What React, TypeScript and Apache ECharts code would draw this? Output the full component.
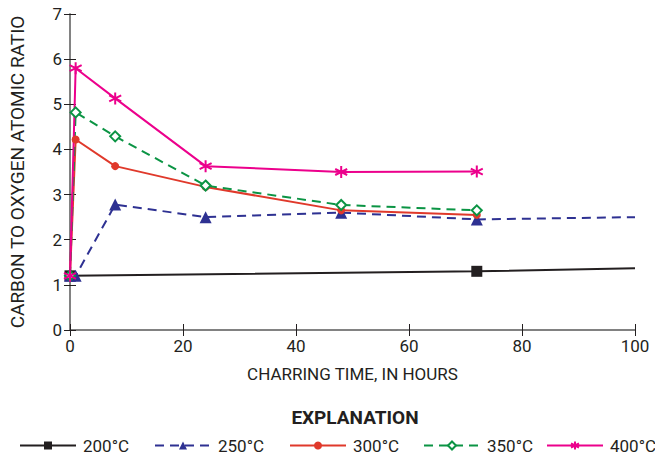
import React, { useEffect, useRef } from "react";
import * as echarts from "echarts";

const hours200 = [0, 72, 100];
const ratio200 = [1.2, 1.3, 1.37];
const hours250 = [0, 1, 8, 24, 48, 72, 100];
const ratio250 = [1.2, 1.2, 2.78, 2.5, 2.6, 2.45, 2.5];
const hoursHot = [0, 1, 8, 24, 48, 72];
const ratio300 = [1.2, 4.22, 3.63, 3.17, 2.65, 2.55];
const ratio350 = [1.2, 4.82, 4.29, 3.2, 2.77, 2.65];
const ratio400 = [1.2, 5.8, 5.13, 3.63, 3.5, 3.51];
const seriesNames = ["200°C", "250°C", "300°C", "350°C", "400°C"];
const legendLefts = [19, 154, 289, 423, 546];

const FONT = "Roboto, 'Liberation Sans', sans-serif";
const INK = "#231f20";
const ASTERISK = "path://M0,-10L0,10M-8.66,-5L8.66,5M-8.66,5L8.66,-5";

function pairs(xs: number[], ys: number[]) {
  return xs.map((x, i) => {
    const item: any = { value: [x, ys[i]] };
    if (x === 100) item.symbol = "none";
    return item;
  });
}

export default function App() {
  const ref = useRef<HTMLDivElement>(null);
  useEffect(() => {
    const chart = echarts.init(ref.current!, null, { renderer: "svg" });
    const frame = { show: true, lineStyle: { color: "#7a7a7a", width: 1.5 } };
    const tickIn = { show: true, inside: true, length: 6, lineStyle: { color: INK, width: 1 } };
    chart.setOption({
      animation: false,
      textStyle: { fontFamily: FONT },
      grid: { left: 68, right: 20, top: 14, bottom: 129, containLabel: false },
      title: {
        text: "EXPLANATION",
        left: 350,
        textAlign: "center",
        top: 403,
        textStyle: { fontFamily: FONT, fontWeight: "bold", fontSize: 19, color: INK },
      },
      legend: seriesNames.map((name, i) => ({
        data: [name],
        left: legendLefts[i],
        top: 437,
        padding: 0,
        itemWidth: 56,
        itemHeight: 10,
        textStyle: { fontFamily: FONT, fontSize: 17, color: INK, padding: [0, 0, 0, 2] },
      })),
      xAxis: [
        {
          type: "value",
          min: 0,
          max: 100,
          interval: 20,
          name: "CHARRING TIME, IN HOURS",
          nameLocation: "middle",
          nameGap: 35,
          nameTextStyle: { fontFamily: FONT, fontSize: 17, color: INK },
          axisLine: frame,
          axisTick: tickIn,
          splitLine: { show: false },
          axisLabel: { fontFamily: FONT, fontSize: 17, color: INK, margin: 7 },
        },
        {
          type: "value",
          position: "top",
          min: 0,
          max: 100,
          interval: 20,
          axisLine: frame,
          axisTick: tickIn,
          axisLabel: { show: false },
          splitLine: { show: false },
        },
      ],
      yAxis: [
        {
          type: "value",
          min: 0,
          max: 7,
          interval: 1,
          name: "CARBON TO OXYGEN ATOMIC RATIO",
          nameLocation: "middle",
          nameGap: 43,
          nameTextStyle: { fontFamily: FONT, fontSize: 19, color: INK },
          axisLine: frame,
          axisTick: tickIn,
          splitLine: { show: false },
          axisLabel: { fontFamily: FONT, fontSize: 17, color: INK, margin: 8 },
        },
        {
          type: "value",
          position: "right",
          min: 0,
          max: 7,
          interval: 1,
          axisLine: frame,
          axisTick: tickIn,
          axisLabel: { show: false },
          splitLine: { show: false },
        },
      ],
      series: [
        {
          name: seriesNames[0],
          type: "line",
          data: pairs(hours200, ratio200),
          symbol: "rect",
          symbolSize: 11,
          itemStyle: { color: INK },
          lineStyle: { color: INK, width: 2 },
        },
        {
          name: seriesNames[1],
          type: "line",
          data: pairs(hours250, ratio250),
          symbol: "triangle",
          symbolSize: 12,
          itemStyle: { color: "#2e3192" },
          lineStyle: { color: "#2e3192", width: 2, type: [9, 6] },
        },
        {
          name: seriesNames[2],
          type: "line",
          data: pairs(hoursHot, ratio300),
          symbol: "circle",
          symbolSize: 8,
          itemStyle: { color: "#e0392b" },
          lineStyle: { color: "#e0392b", width: 2 },
        },
        {
          name: seriesNames[3],
          type: "line",
          data: pairs(hoursHot, ratio350),
          symbol: "emptyDiamond",
          symbolSize: 10,
          itemStyle: { color: "#0b9444", borderWidth: 2 },
          lineStyle: { color: "#0b9444", width: 2, type: [9, 6] },
        },
        {
          name: seriesNames[4],
          type: "line",
          data: pairs(hoursHot, ratio400),
          symbol: ASTERISK,
          symbolSize: 12,
          itemStyle: { color: "#ec008c", borderColor: "#ec008c", borderWidth: 2 },
          lineStyle: { color: "#ec008c", width: 2 },
        },
      ],
    });
    return () => chart.dispose();
  }, []);
  return <div ref={ref} style={{ width: 655, height: 459, position: "absolute", left: 0, top: 0 }} />;
}
